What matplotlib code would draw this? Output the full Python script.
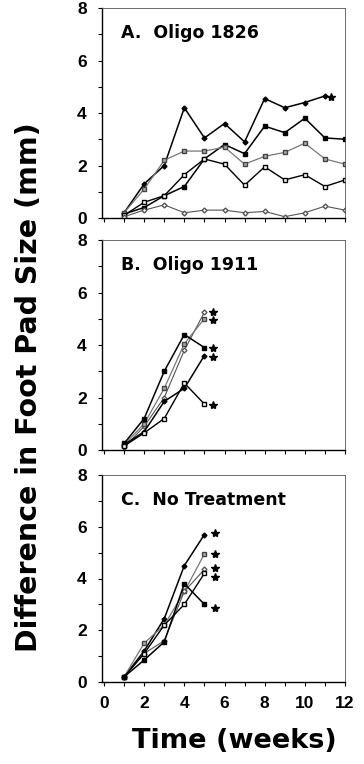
import matplotlib
matplotlib.use("Agg")
import matplotlib.pyplot as plt

plt.rcParams['font.family'] = ['Liberation Sans', 'DejaVu Sans']

# ---- data ----
weeks_a = [1, 2, 3, 4, 5, 6, 7, 8, 9, 10, 11, 12]
a_s1 = [0.2, 1.3, 2.0, 4.2, 3.05, 3.6, 2.9, 4.55, 4.2, 4.4, 4.65]
a_s2 = [0.15, 0.4, 0.85, 1.2, 2.25, 2.8, 2.45, 3.5, 3.25, 3.8, 3.05, 3.0]
a_s3 = [0.2, 1.1, 2.2, 2.55, 2.55, 2.7, 2.05, 2.35, 2.5, 2.85, 2.25, 2.05]
a_s4 = [0.1, 0.6, 0.85, 1.65, 2.25, 2.05, 1.25, 1.95, 1.45, 1.65, 1.2, 1.45]
a_s5 = [0.05, 0.3, 0.5, 0.2, 0.3, 0.3, 0.2, 0.25, 0.05, 0.2, 0.45, 0.3]
a_star_x = [11.3]
a_star_y = [4.6]

weeks_bc = [1, 2, 3, 4, 5]
b_s1 = [0.1, 0.9, 2.0, 3.8, 5.25]
b_s2 = [0.2, 1.0, 2.35, 4.05, 5.0]
b_s3 = [0.25, 1.2, 3.0, 4.4, 3.9]
b_s4 = [0.2, 0.7, 1.85, 2.35, 3.6]
b_s5 = [0.15, 0.65, 1.2, 2.55, 1.75]
b_star_x = [5.45, 5.45, 5.45, 5.45, 5.45]
b_star_y = [5.25, 4.95, 3.9, 3.55, 1.7]

c_s1 = [0.2, 1.2, 2.45, 4.5, 5.7]
c_s2 = [0.2, 1.5, 2.2, 3.5, 4.95]
c_s3 = [0.2, 1.1, 1.6, 3.5, 4.35]
c_s4 = [0.2, 1.1, 2.2, 3.0, 4.2]
c_s5 = [0.2, 0.85, 1.55, 3.8, 3.0]
c_star_x = [5.55, 5.55, 5.55, 5.55, 5.55]
c_star_y = [5.75, 4.95, 4.4, 4.05, 2.85]

titles = ["A.  Oligo 1826", "B.  Oligo 1911", "C.  No Treatment"]

# ---- styles ----
FD = dict(marker='D', color='black', mfc='black', ms=2.5, lw=1.1)
FS = dict(marker='s', color='black', mfc='black', ms=3, lw=1.1)
GS = dict(marker='s', color='#777777', mfc='#aaaaaa', mec='#444444', ms=3, lw=0.9)
OS = dict(marker='s', color='black', mfc='white', ms=3, lw=1.0)
OD = dict(marker='D', color='#555555', mfc='white', ms=2.5, lw=0.8)

W, H = 364, 764
fig = plt.figure(figsize=(W / 100, H / 100), dpi=100)

def ax_rect(left, top, right, bottom):
    return [left / W, 1 - bottom / H, (right - left) / W, (bottom - top) / H]

rects = [ax_rect(102, 8, 345, 218), ax_rect(102, 240, 345, 450), ax_rect(102, 475, 345, 682)]
panels = [
    (weeks_a, [a_s1, a_s2, a_s3, a_s4, a_s5], [FD, FS, GS, OS, OD], a_star_x, a_star_y),
    (weeks_bc, [b_s1, b_s2, b_s3, b_s4, b_s5], [OD, GS, FS, FD, OS], b_star_x, b_star_y),
    (weeks_bc, [c_s1, c_s2, c_s3, c_s4, c_s5], [FD, GS, OD, OS, FS], c_star_x, c_star_y),
]

for i, (rect, (wk, series, sts, sx, sy)) in enumerate(zip(rects, panels)):
    ax = fig.add_axes(rect)
    for s, st in zip(series, sts):
        ax.plot(wk[:len(s)], s, **st)
    ax.plot(sx, sy, linestyle='none', marker='*', color='black', ms=6)
    ax.set_xlim(-0.1, 12)
    ax.set_ylim(0, 8)
    ax.set_yticks(range(0, 9))
    ax.set_yticklabels([str(v) if v % 2 == 0 else "" for v in range(9)])
    ax.set_xticks(range(0, 13))
    if i == 2:
        ax.set_xticklabels([str(v) if v % 2 == 0 else "" for v in range(13)])
    else:
        ax.set_xticklabels([])
    ax.tick_params(direction='out', length=3, width=0.8, labelsize=12.5)
    ax.tick_params(axis='y', pad=8)
    ax.tick_params(axis='x', pad=7)
    for lab in ax.get_xticklabels() + ax.get_yticklabels():
        lab.set_fontweight('bold')
    for sp in ['left', 'bottom']:
        ax.spines[sp].set_linewidth(1.0)
    for sp in ['top', 'right']:
        ax.spines[sp].set_linewidth(0.6)
        ax.spines[sp].set_color('#555555')
    ax.text(0.08, 0.88, titles[i], transform=ax.transAxes, fontsize=12.5,
            fontweight='bold', va='center', ha='left', family='DejaVu Sans')

fig.text(29 / W, 1 - 387 / H, "Difference in Foot Pad Size (mm)", rotation=90,
         fontsize=20.5, fontweight='bold', ha='center', va='center', family='DejaVu Sans')
fig.text(234 / W, 1 - 741 / H, "Time (weeks)", fontsize=19.5, fontweight='bold',
         ha='center', va='center', family='DejaVu Sans')

fig.savefig("out.png", dpi=100)
